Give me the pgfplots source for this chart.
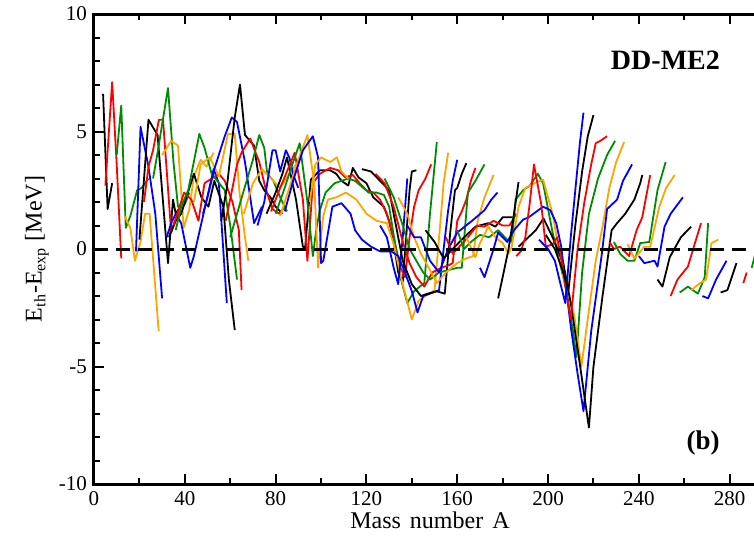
\documentclass[border=0pt]{standalone}
\usepackage{fontspec}
\setmainfont{Liberation Serif}
\usepackage{pgfplots}
\pgfplotsset{compat=1.18}
\definecolor{cgreen}{RGB}{0,140,0}
\definecolor{corange}{RGB}{255,165,0}
\pgfplotsset{
  zk/.style={draw=black},
  zr/.style={draw=red},
  zg/.style={draw=cgreen},
  zo/.style={draw=corange},
  zb/.style={draw=blue},
}
\begin{document}
\begin{tikzpicture}
\begin{axis}[name=ax, scale only axis, width=336pt, height=235pt,
  xmin=0, xmax=296, ymin=-10, ymax=10,
  xtick={0,40,...,280}, minor xtick={20,60,...,300},
  ytick={-10,-5,0,5,10}, minor ytick={-9,-8,-7,-6,-4,-3,-2,-1,1,2,3,4,6,7,8,9},
  tick align=inside, major tick length=5pt, minor tick length=3pt,
  axis line style={line width=1.5pt},
  every tick/.style={black, line width=1pt},
  tick label style={font=\fontsize{10.5}{13}\selectfont},
  /pgf/number format/assume math mode=true,
  xlabel={Mass\hspace{4.5pt}number\hspace{4.5pt}A},
  ylabel={E\textsubscript{th}-E\textsubscript{exp} [MeV]},
  label style={font=\fontsize{12}{14}\selectfont},
  x label style={at={(axis description cs:0.5,-0.077)}, anchor=center},
  y label style={at={(axis description cs:-0.085,0.5)}, anchor=center},
  every axis plot/.append style={line width=0.9pt, line join=round},
]
% light region
\addplot[zk] coordinates {(4,6.6) (6,1.7) (8,2.8)};
\addplot[zr] coordinates {(5,2.7) (8,7.1) (10,3.6) (12,-0.4)};
\addplot[zg] coordinates {(10,4.0) (12,6.1) (14,0.9) (16,1.4) (19,2.5) (21,2.6) (24,3.0)};
\addplot[zo] coordinates {(13.5,1.4) (16,0.9) (18,-0.5) (20.5,0.3) (22.5,1.5) (24.5,1.5) (28.5,-3.5)};
\addplot[zb] coordinates {(18.5,-0.1) (20.5,5.2) (24,3.5) (27,1.5) (30,-2.1)};
\addplot[zk] coordinates {(20,0.4) (24,5.5) (28,4.85) (32.6,-0.6) (34.8,2.1) (36,1.5) (38,1.8)};
\addplot[zr] coordinates {(22,2.0) (24,3.5) (26,4.2) (28.6,5.5) (30.4,5.5) (34,0.7) (35.3,1.1) (38,1.6)};
\addplot[zg] coordinates {(26,3.0) (28,4.1) (32.6,6.85) (35,3.7) (37,1.8) (40,1.9) (42,2.4)};
\addplot[zo] coordinates {(30,4.0) (34,4.6) (37,4.4) (39.5,0.9) (42,1.7) (44,3.1) (47,3.8) (49.5,3.5) (52.7,4.1)};
\addplot[zb] coordinates {(32,0.5) (34,1.1) (36,1.5) (38.4,1.1) (42.4,-0.8) (44,-0.3) (48,1.4) (52.7,3.4) (55,2.8) (58.5,-2.3)};
\addplot[zk] coordinates {(33,0.5) (36,1.2) (38.4,1.5) (44,3.2) (47.3,2.2) (50.4,1.8) (53,2.9) (57,1.8) (59.4,-1.3) (62,-3.45)};
\addplot[zr] coordinates {(35,1.0) (39.7,2.4) (42.9,2.1) (46,1.2) (48.7,2.8) (55,3.2) (57.6,2.9) (61,2.0) (63.8,0.8) (65,-1.75)};
\addplot[zg] coordinates {(36,0.8) (38.4,1.8) (41.5,2.5) (46.4,4.9) (48.7,4.3) (51.8,3.2) (57.6,2.5) (60,1.0) (63,-1.3)};
\addplot[zo] coordinates {(44,2.0) (47,3.6) (51,3.9) (55,3.1) (59,4.9) (62,4.9) (64,2.5) (66.5,0.5) (68,-0.5)};
\addplot[zb] coordinates {(48,1.5) (50,2.2) (53,3.4) (57.6,4.8) (60.7,5.6) (63,5.4) (66.5,3.7) (70.5,1.1) (74,1.8)};
\addplot[zk] coordinates {(56,1.2) (58.5,2.6) (60.7,4.5) (62,5.6) (64.3,7.0) (66.5,4.85) (70.5,4.4) (72.8,2.9) (75,2.5) (77.7,2.2) (80,1.8) (83,1.5)};
\addplot[zr] coordinates {(58,1.2) (61,2.6) (63,3.6) (65,4.1) (68.8,4.7) (72.8,3.7) (75.5,2.6) (78.6,1.7) (81.7,1.5) (84,1.8)};
\addplot[zg] coordinates {(60,0.5) (63,1.5) (66,2.5) (70,3.8) (72.8,4.85) (75,4.3) (76.3,3.2) (79,2.9) (82,2.2) (85,1.6)};
\addplot[zo] coordinates {(66,1.5) (70,2.8) (74,3.4) (78,3.0) (82,2.6) (86,3.2) (89,3.6)};
\addplot[zb] coordinates {(72,1.0) (75,2.0) (78.6,4.2) (80,4.2) (82,3.3) (84.5,4.2) (86,3.9) (88,3.1) (90,2.6)};
% middle region
\addplot[zk] coordinates {(76,1.5) (80,2.4) (83,3.2) (85,3.9) (89,2.1) (92,0.1) (93,0.05) (95.5,2.95) (99.5,3.35) (104,3.35) (106.7,3.2) (109,2.9) (112,2.7) (114,3.45) (116.5,3.05) (120,2.8) (123,2.2) (127.7,1.8) (130,1.2) (132,0.3) (134,-1.0) (136,-1.4) (137.5,0.5) (139,2.5) (140,3.3) (142,3.35)};
\addplot[zr] coordinates {(78,1.6) (82,2.6) (85,3.3) (88.4,4.1) (92,2.1) (94,-0.5) (96.4,2.8) (99.5,3.2) (104,3.45) (107.6,3.35) (110.7,3.05) (114,3.15) (117,2.8) (120,2.5) (123,2.4) (126,2.1) (129,1.5) (132,0.5) (135,-0.8) (137,-1.2) (139,0.5) (141,1.8) (143,2.5) (146,3.0) (148.5,3.6)};
\addplot[zg] coordinates {(80,1.5) (84,2.6) (87,3.5) (90.6,4.5) (94,2.0) (96.4,-0.3) (98,0.9) (99.5,1.65) (102,2.4) (106,2.8) (109,2.9) (112,3.0) (115,2.9) (118,2.65) (121,2.4) (124.5,2.4) (127.7,2.3) (130,1.8) (133,0.0) (135,-1.2) (138,-2.3) (141,-1.8) (143.5,-1.6) (145.5,-1.45) (148,1.5) (151,4.55)};
\addplot[zo] coordinates {(82,1.4) (86,2.6) (90,3.8) (94,4.85) (97,2.8) (98.7,-0.8) (99.5,0.1) (101,1.4) (103,2.1) (106.7,2.2) (111,2.4) (115.6,2.1) (120,1.5) (124.5,1.2) (129,1.1) (132,0.2) (136,-1.5) (140,-3.0) (143,-2.2) (146,-2.0) (150,-1.75) (152,0.5) (154,2.8) (156,4.1)};
\addplot[zb] coordinates {(84,1.6) (88,3.0) (92,4.2) (96.4,4.8) (98.7,3.9) (100,-0.6) (101,-0.5) (105,1.8) (109,1.95) (113,1.5) (115,0.8) (118,0.4) (122,0.1) (126,-0.1) (131,-0.1) (134,-0.3) (137,-1.0) (140,-1.8) (142.5,-2.7) (145,-2.0) (148,-1.9) (152,-1.75) (154,0.0) (156,1.65) (158,2.9) (160,3.8)};
\addplot[zo] coordinates {(95,2.0) (97.5,3.6) (100,3.9) (104,3.7) (107,3.9) (109,3.3) (112,3.0)};
\addplot[zb] coordinates {(126,1.0) (129,0.5) (132,-0.8) (134,-1.5) (136,0.5) (138,3.0)};
\addplot[zk] coordinates {(118,3.4) (122,3.3) (126,2.9) (130,2.5) (133,1.0) (136,-0.5) (140,-1.5) (144,-2.0) (147,-1.9) (151,-1.8) (154.5,-1.9) (157,0.8) (159,2.5) (160,2.6) (162,3.2) (164,3.65)};
\addplot[zr] coordinates {(124,3.2) (128,2.8) (132,1.8) (136,0.3) (139,-0.6) (142,-1.2) (145.5,-1.6) (149,-1.0) (153,-0.8) (156,-0.7) (158,-0.6) (160,1.2) (162,1.6) (164,2.1) (166,2.9) (168,3.45)};
\addplot[zg] coordinates {(128,3.0) (132,2.2) (136,1.0) (139,0.0) (142,-0.5) (145,-1.0) (148,-1.3) (152,-1.0) (156,-0.9) (160,-0.8) (162,-0.8) (164.7,2.4) (168,2.9) (172,3.6)};
\addplot[zo] coordinates {(134,2.2) (138,1.5) (141,0.5) (144,-0.2) (148,-0.9) (151,-1.45) (155,-1.0) (160,-0.6) (164,-0.4) (167,-0.3) (169,1.2) (172,2.2) (176,3.15)};
\addplot[zb] coordinates {(138,1.0) (141,0.5) (144,0.5) (148,-0.5) (152,-1.0) (154,-0.5) (156,0.0) (160,0.7) (166.5,1.2) (172,1.65) (175,2.1) (177.7,2.4)};
\addplot[zk] coordinates {(146,0.8) (150,0.3) (154,-0.4) (158,0.0) (162,0.4) (168,0.95) (173.7,1.1) (176.8,0.95) (180,1.35) (184.4,1.35)};
\addplot[zr] coordinates {(155,0.5) (158,-0.2) (160,0.0) (164.7,0.5) (168.7,1.0) (172,0.95) (176,1.2) (180,1.0) (183,1.0) (186,1.5)};
% heavy region
\addplot[zg] coordinates {(160,0.8) (163,0.0) (166,0.3) (170,0.6) (174,0.5) (178,0.8) (182,0.4) (184,0.3) (185.7,2.1) (189,2.5) (192,2.7) (195.5,3.2) (197.8,2.8) (202,0.7) (204.5,-0.3) (208,-1.75) (211,-3.5) (212.5,-4.6) (215,-1.0) (218,1.5) (222,3.0) (226,4.0) (229.5,4.6)};
\addplot[zo] coordinates {(164,0.5) (168,-0.35) (170,0.25) (173.7,0.95) (176.8,0.5) (180,0.25) (182.6,-0.2) (184,0.1) (187,1.8) (190,2.6) (194,2.8) (197.8,2.95) (202,1.5) (204.5,0.1) (206.7,-1.2) (209,-1.9) (211.5,-2.8) (214.7,-5.0) (218,-2.6) (221,-0.5) (223.7,0.8) (227,2.6) (230,3.7) (233.5,4.55)};
\addplot[zb] coordinates {(170,-0.8) (172,-1.2) (174,-0.6) (176,0.0) (178,0.7) (180,0.5) (182,0.3) (185,0.8) (189,1.25) (191.5,1.35) (197.8,1.8) (201,1.65) (203.6,1.1) (205.8,0.1) (207,-0.9) (210,-3.3) (213,-5.3) (215.6,-6.9) (219,-3.5) (223.7,-0.2) (226,1.7) (230.4,2.1) (233,2.9) (237,3.6)};
\addplot[zk] coordinates {(178,-2.1) (180,-1.2) (182.6,0.0) (185,1.5) (187,2.85)};
\addplot[zk] coordinates {(187,0.1) (194.6,0.8) (198,1.3) (202,0.5) (206.7,-0.6) (210,-2.3) (214,-4.9) (218,-7.6) (220,-5.0) (224,-2.0) (228,0.8) (230.4,1.1) (234,1.5) (238,2.1) (240.6,2.8) (241.5,3.15)};
\addplot[zr] coordinates {(186,-0.3) (188,-0.1) (190,0.5) (192,2.0) (193.8,3.6) (197,1.9) (199,0.1) (202,0.2) (204,0.5) (206,-0.5) (208,-1.8) (210,-3.0) (213,0.0) (216,2.0) (219,3.6) (221,4.5) (223,4.6) (226,4.8)};
\addplot[zb] coordinates {(196,0.4) (200,0.0) (203,-0.5) (205.5,-1.5) (207.6,-2.3) (210,0.5) (212,2.5) (214,4.5) (215.6,5.8)};
\addplot[zk] coordinates {(199,0.6) (203,0.0) (206,-0.8) (209,-1.75) (212,1.0) (215,3.3) (217.5,4.8) (220,5.7)};
\addplot[zr] coordinates {(227,0.3) (229,0.0) (231.7,0.1) (235.7,-0.3) (239,0.8) (241.5,1.35) (245,3.15)};
\addplot[zg] coordinates {(229,0.3) (231.7,-0.2) (235,-0.5) (238,-0.5) (240.6,0.25) (244.6,0.3) (248.2,2.5) (251.8,3.7)};
\addplot[zo] coordinates {(235,0.2) (238,-0.4) (242.4,0.1) (245,0.1) (249,1.8) (252,2.6) (255.8,3.15)};
\addplot[zb] coordinates {(240,-0.3) (242.4,-0.6) (246.9,-0.5) (248.2,-0.75) (251.3,0.95) (254,1.5) (259.4,2.2)};
\addplot[zk] coordinates {(248.2,-1.3) (250.4,-1.6) (253.6,-0.35) (258.5,0.5) (263,0.95)};
\addplot[zr] coordinates {(254,-2.0) (257,-1.3) (261.6,-0.75) (264.7,0.25) (267.4,1.1)};
\addplot[zg] coordinates {(258,-1.85) (261.6,-1.6) (266,-1.9) (269,-1.2) (270.5,1.1)};
\addplot[zo] coordinates {(263,-1.75) (267,-1.45) (269.6,-1.3) (272,0.25) (275,0.4)};
\addplot[zb] coordinates {(268,-2.0) (270.5,-2.1) (274,-1.3) (278.6,-0.5)};
\addplot[zk] coordinates {(276,-1.85) (279,-1.75) (283,-0.6)};
\addplot[zr] coordinates {(286,-1.45) (287.5,-1.0)};
\addplot[zg] coordinates {(289.7,-0.8) (292,0.05)};
% zero line
\addplot[black, line width=1.5pt, dash pattern=on 7pt off 4pt] coordinates {(0,0) (296,0)};
\node[font=\bfseries\fontsize{14}{16}\selectfont] at (axis cs:251.7,8.04) {DD-ME2};
\node[font=\bfseries\fontsize{13.5}{16}\selectfont] at (axis cs:268.3,-8.24) {(b)};
\end{axis}
\pgfresetboundingbox
\useasboundingbox ([xshift=-47pt,yshift=-26pt]ax.south west) rectangle ([xshift=330pt,yshift=7pt]ax.north west);
\end{tikzpicture}
\end{document}
